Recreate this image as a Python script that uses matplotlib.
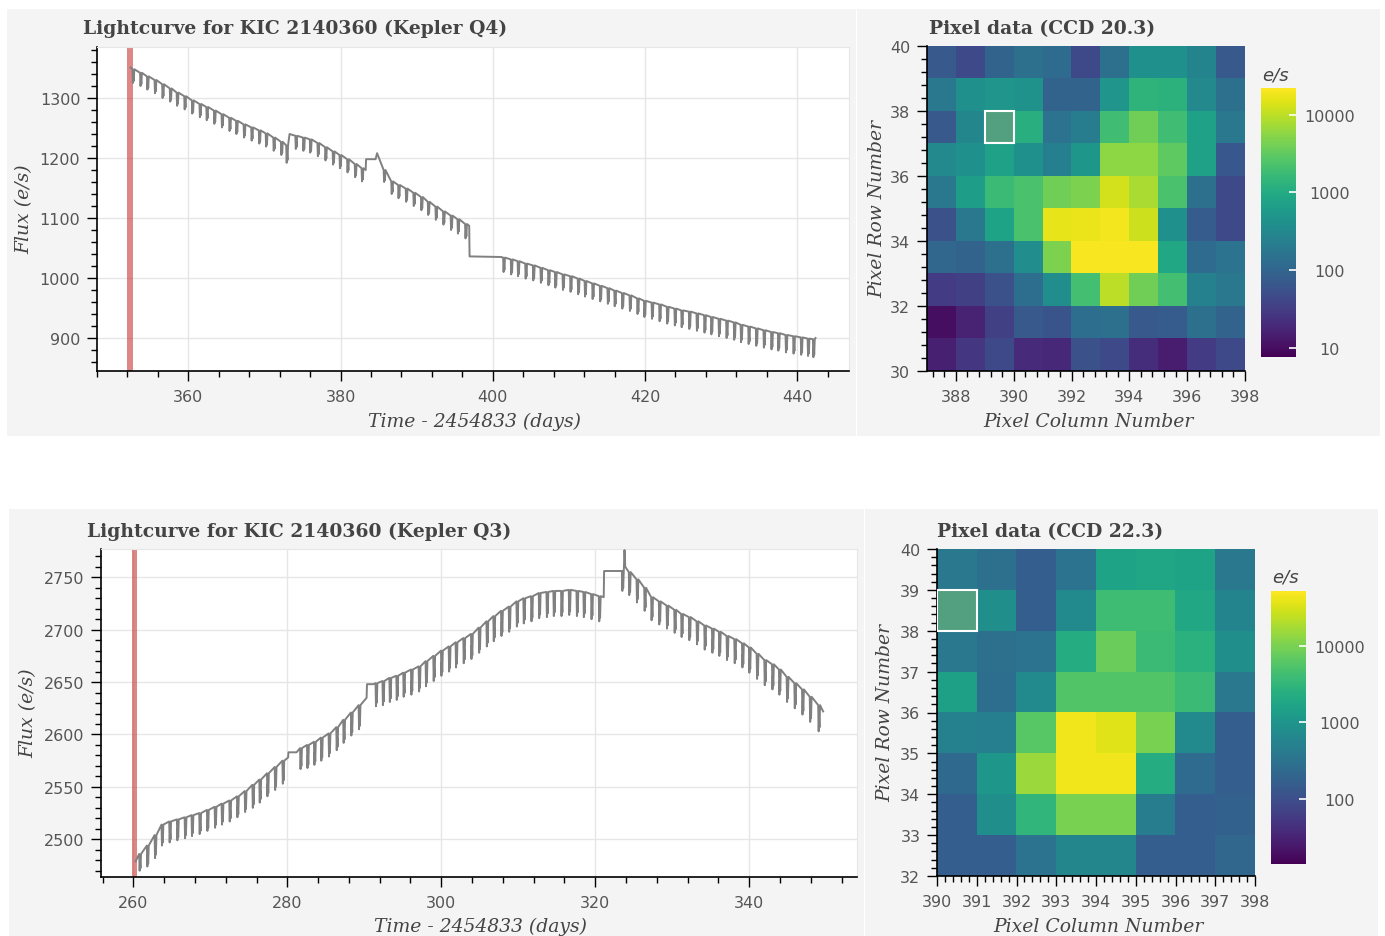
import numpy as np
import matplotlib
matplotlib.use('Agg')
import matplotlib.pyplot as plt
from matplotlib.colors import LogNorm
from matplotlib.patches import Rectangle
from matplotlib.ticker import MultipleLocator, NullLocator, FuncFormatter

W, H = 1385, 937

# ---- Kepler Q4 lightcurve: dip epochs, level before dip, dip bottom ----
q4_time = [352.4, 352.8, 353.8, 354.7, 355.7, 356.7, 357.7, 358.6, 359.6, 360.6,
           361.6, 362.5, 363.5, 364.5, 365.5, 366.4, 367.4, 368.4, 369.4, 370.3,
           371.3, 372.3, 373.0, 373.3, 374.2, 375.2, 376.1, 377.1, 378.1, 379.1,
           380.0, 381.0, 382.0, 382.9, 383.3, 383.35, 384.6, 384.8, 385.8, 386.8,
           387.7, 388.7, 389.7, 390.7, 391.6, 392.6, 393.6, 394.6, 395.5, 396.5,
           396.9, 396.95, 401.1, 401.5, 402.5, 403.4, 404.4, 405.4, 406.4, 407.4,
           408.3, 409.3, 410.3, 411.3, 412.2, 413.2, 414.2, 415.2, 416.1, 417.1,
           418.1, 419.1, 420.0, 421.0, 422.0, 423.0, 424.0, 424.9, 425.9, 426.9,
           427.9, 428.8, 429.8, 430.8, 431.8, 432.7, 433.7, 434.7, 435.7, 436.7,
           437.6, 438.6, 439.6, 440.6, 441.5, 442.2, 442.4]
q4_top = [1351, 1348, 1342, 1336, 1330, 1323, 1316, 1309, 1303, 1296,
          1290, 1285, 1279, 1273, 1267, 1262, 1256, 1251, 1246, 1241,
          1234, 1227, 1221, 1240, 1237, 1234, 1231, 1225, 1218, 1211,
          1205, 1198, 1190, 1183, 1180, 1198, 1198, 1208, 1180, 1161,
          1155, 1149, 1142, 1135, 1127, 1119, 1111, 1104, 1098, 1090,
          1087, 1036, 1035, 1034, 1031, 1028, 1024, 1021, 1017, 1013,
          1010, 1006, 1003, 999, 995, 991, 987, 983, 979, 975,
          971, 966, 962, 959, 956, 952, 949, 946, 944, 941,
          938, 935, 932, 929, 926, 922, 919, 916, 913, 910,
          908, 905, 903, 901, 899, 898, 900]
q4_low = [1351, 1325, 1320, 1314, 1308, 1300, 1294, 1287, 1281, 1274,
          1268, 1263, 1257, 1251, 1245, 1240, 1234, 1229, 1224, 1219,
          1212, 1205, 1192, 1240, 1215, 1212, 1209, 1203, 1196, 1189,
          1183, 1176, 1168, 1161, 1180, 1198, 1198, 1208, 1160, 1140,
          1133, 1127, 1120, 1113, 1105, 1097, 1089, 1080, 1074, 1066,
          1087, 1036, 1035, 1010, 1006, 1003, 999, 996, 992, 988,
          984, 980, 977, 973, 969, 965, 961, 957, 953, 949,
          945, 940, 935, 932, 928, 924, 921, 918, 915, 912,
          909, 906, 903, 900, 897, 893, 890, 887, 884, 881,
          879, 876, 874, 872, 870, 868, 900]
q4_marker = 352.35

# ---- Kepler Q3 lightcurve ----
q3_time = [260.3, 260.9, 261.9, 262.9, 263.8, 264.8, 265.8, 266.8, 267.7, 268.7,
           269.7, 270.7, 271.6, 272.6, 273.6, 274.6, 275.6, 276.5, 277.5, 278.5,
           279.5, 280.1, 280.15, 281.2, 281.8, 282.7, 283.6, 284.5, 285.5, 286.5,
           287.4, 288.4, 289.4, 290.3, 290.35, 291.2, 291.6, 292.5, 293.4, 294.3,
           295.2, 296.2, 297.2, 298.1, 299.1, 300.1, 301.1, 302.0, 303.0, 304.0,
           305.0, 306.0, 306.9, 307.9, 308.9, 309.9, 310.8, 311.8, 312.8, 313.8,
           314.7, 315.7, 316.7, 317.7, 318.6, 319.6, 320.6, 321.1, 321.15, 323.5,
           323.6, 323.8, 323.9, 324.5, 325.5, 326.5, 327.4, 328.4, 329.4, 330.4,
           331.3, 332.3, 333.3, 334.3, 335.3, 336.2, 337.2, 338.2, 339.2, 340.1,
           341.1, 342.1, 343.1, 344.0, 345.0, 346.0, 347.0, 348.0, 349.1, 349.6]
q3_top = [2479, 2486, 2494, 2504, 2514, 2517, 2519, 2521, 2523, 2525,
          2528, 2531, 2534, 2537, 2541, 2546, 2552, 2557, 2563, 2569,
          2575, 2578, 2583, 2583, 2587, 2590, 2593, 2597, 2601, 2607,
          2614, 2621, 2628, 2635, 2648, 2648, 2649, 2651, 2654, 2656,
          2659, 2662, 2665, 2670, 2675, 2680, 2684, 2688, 2692, 2696,
          2702, 2708, 2713, 2718, 2722, 2727, 2730, 2732, 2735, 2736,
          2737, 2737, 2738, 2737, 2736, 2734, 2732, 2731, 2756, 2756,
          2756, 2776, 2760, 2755, 2748, 2740, 2731, 2727, 2723, 2719,
          2715, 2712, 2708, 2704, 2701, 2698, 2694, 2691, 2687, 2683,
          2677, 2671, 2667, 2662, 2655, 2649, 2643, 2636, 2628, 2622]
q3_low = [2479, 2470, 2474, 2482, 2494, 2497, 2499, 2501, 2503, 2505,
          2508, 2511, 2514, 2517, 2521, 2526, 2530, 2535, 2541, 2547,
          2553, 2578, 2583, 2583, 2567, 2568, 2571, 2575, 2579, 2585,
          2592, 2599, 2605, 2635, 2648, 2648, 2627, 2628, 2631, 2633,
          2636, 2638, 2641, 2646, 2651, 2656, 2660, 2664, 2668, 2672,
          2678, 2684, 2689, 2694, 2698, 2703, 2706, 2708, 2711, 2712,
          2713, 2713, 2714, 2713, 2712, 2710, 2708, 2731, 2756, 2756,
          2737, 2776, 2760, 2733, 2726, 2718, 2709, 2705, 2701, 2697,
          2693, 2690, 2686, 2681, 2678, 2675, 2671, 2668, 2664, 2659,
          2653, 2647, 2643, 2638, 2631, 2625, 2619, 2612, 2603, 2622]
q3_marker = 260.15

# ---- pixel data (e/s), rows listed from top row to bottom row ----
pix_q4_cols = [387, 398]
pix_q4_rows = [30, 40]
pix_q4 = [
    [71, 44, 98, 147, 125, 44, 147, 414, 414, 278, 71],
    [186, 414, 486, 449, 98, 98, 486, 1370, 1265, 326, 147],
    [71, 301, 617, 1170, 159, 218, 1890, 3870, 1890, 724, 186],
    [326, 414, 724, 414, 237, 526, 5770, 5770, 3050, 724, 66],
    [186, 668, 1740, 2210, 3870, 4540, 12800, 7940, 2210, 147, 44],
    [56, 186, 784, 2210, 16260, 17600, 19070, 11830, 414, 77, 44],
    [107, 98, 147, 382, 4540, 20650, 20650, 20650, 920, 125, 159],
    [32, 35, 56, 135, 382, 2040, 10080, 3870, 2040, 256, 186],
    [10.5, 17, 35, 71, 61, 135, 147, 71, 77, 147, 98],
    [15.7, 27.5, 44, 20, 18.4, 56, 44, 21.6, 14.5, 32, 44],
]
pix_q4_range = (7.7, 22000)
pix_q4_target = (389, 37)

pix_q3_cols = [390, 398]
pix_q3_rows = [32, 40]
pix_q3 = [
    [375, 293, 165, 318, 1648, 1788, 1648, 375],
    [1288, 853, 165, 724, 4067, 4067, 1941, 566],
    [375, 293, 318, 2288, 7855, 3747, 2696, 853],
    [1518, 270, 724, 5650, 5650, 5650, 3747, 375],
    [521, 480, 6135, 44140, 34430, 10050, 724, 165],
    [229, 1092, 15150, 44140, 44140, 2288, 249, 165],
    [165, 853, 3178, 10050, 10050, 442, 165, 179],
    [165, 165, 318, 614, 614, 165, 165, 211],
]
pix_q3_range = (14, 52000)
pix_q3_target = (390, 38)

cbar_ticks = [10, 100, 1000, 10000]

TXT = '#444444'
TICK_TXT = '#555555'


def px_axes(fig, left, top, right, bottom):
    ax = fig.add_axes([left / W, 1 - bottom / H, (right - left) / W, (bottom - top) / H])
    ax.set_zorder(2)
    return ax


def fig_text(fig, x, y, s, **kw):
    fig.text(x / W, 1 - y / H, s, color=TXT, **kw)


def style_ticks(ax):
    ax.tick_params(which='major', direction='out', length=7, width=1, color='black',
                   labelsize=11.5, labelcolor=TICK_TXT, pad=5)
    ax.tick_params(axis='x', which='major', pad=6)
    ax.tick_params(which='minor', direction='out', length=4, width=1, color='black')


def draw_lightcurve(ax, times, tops, lows, marker, xlim, ylim, ymajor):
    # each dip is drawn as a narrow double-pronged notch below the running level
    xs, ys = [], []
    for t, hi, lo in zip(times, tops, lows):
        if lo < hi:
            d = hi - lo
            xs += [t - 0.14, t - 0.08, t - 0.03, t + 0.03, t + 0.1]
            ys += [hi, lo, hi - 0.45 * d, lo + 0.15 * d, hi]
        else:
            xs.append(t)
            ys.append(hi)
    ax.plot(xs, ys, color='#808080', lw=1.4, zorder=3)
    ax.axvspan(marker - 0.38, marker + 0.38, color='#c83737', alpha=0.6, lw=0, zorder=2)
    ax.set_xlim(*xlim)
    ax.set_ylim(*ylim)
    ax.xaxis.set_major_locator(MultipleLocator(20))
    ax.xaxis.set_minor_locator(MultipleLocator(4))
    ax.yaxis.set_major_locator(MultipleLocator(ymajor))
    ax.yaxis.set_minor_locator(MultipleLocator(ymajor / 5))
    ax.grid(True, which='major', color='#e6e6e6', lw=1, zorder=0)
    ax.set_axisbelow(True)
    for side in ['top', 'right']:
        ax.spines[side].set_color('#e6e6e6')
    for side in ['left', 'bottom']:
        ax.spines[side].set_linewidth(1.2)
    style_ticks(ax)


def draw_pixels(fig, ax, cax, pix, cols, rows, vrange, target, major, cbar_label_xy):
    im = ax.imshow(np.array(pix, dtype=float), cmap='viridis',
                   norm=LogNorm(vmin=vrange[0], vmax=vrange[1]),
                   extent=[cols[0], cols[1], rows[0], rows[1]], origin='upper',
                   aspect='auto', interpolation='nearest')
    ax.add_patch(Rectangle(target, 1, 1, facecolor='#52a07f', edgecolor='white',
                           lw=1.5, zorder=3))
    ax.set_xlim(*cols)
    ax.set_ylim(*rows)
    ax.xaxis.set_major_locator(MultipleLocator(major))
    ax.xaxis.set_minor_locator(MultipleLocator(major / 5))
    ax.yaxis.set_major_locator(MultipleLocator(major))
    ax.yaxis.set_minor_locator(MultipleLocator(major / 5))
    for side in ['top', 'right']:
        ax.spines[side].set_visible(False)
    for side in ['left', 'bottom']:
        ax.spines[side].set_linewidth(1.2)
    style_ticks(ax)

    ticks = [t for t in cbar_ticks if vrange[0] <= t <= vrange[1]]
    cb = fig.colorbar(im, cax=cax, ticks=ticks)
    cb.outline.set_visible(False)
    cax.yaxis.set_minor_locator(NullLocator())
    cax.yaxis.set_major_formatter(FuncFormatter(lambda v, p: f'{v:.0f}'))
    cax.tick_params(which='major', direction='in', length=5, width=1.2, color='white',
                    labelsize=11.5, labelcolor=TICK_TXT, pad=24)
    for lab in cax.get_yticklabels():
        lab.set_ha('center')
    fig_text(fig, cbar_label_xy[0], cbar_label_xy[1], 'e/s', style='italic',
             fontsize=13, ha='center', va='center')


fig = plt.figure(figsize=(W / 100, H / 100), dpi=100)

# grey panel backgrounds
for x0, y0, x1, y1 in [(7, 10, 856, 437), (857, 10, 1380, 437),
                       (9, 510, 864, 937), (865, 510, 1378, 937)]:
    fig.patches.append(Rectangle((x0 / W, 1 - y1 / H), (x1 - x0) / W, (y1 - y0) / H,
                                 transform=fig.transFigure, facecolor='#f4f4f4',
                                 edgecolor='none', zorder=-1))

serif_bold = dict(family='DejaVu Serif', fontweight='bold', fontsize=13.5, va='center')
serif_it = dict(family='DejaVu Serif', style='italic', fontsize=13.5, va='center')

# top row: Q4
ax1 = px_axes(fig, 97, 48, 849, 372)
draw_lightcurve(ax1, q4_time, q4_top, q4_low, q4_marker, (348, 446.8), (845, 1385), 100)
fig_text(fig, 83, 29, 'Lightcurve for KIC 2140360 (Kepler Q4)', ha='left', **serif_bold)
fig_text(fig, 475, 422, 'Time - 2454833 (days)', ha='center', **serif_it)
fig_text(fig, 24, 209, 'Flux (e/s)', ha='center', rotation=90, **serif_it)

ax2 = px_axes(fig, 927, 47, 1245, 372)
cax2 = px_axes(fig, 1261, 89, 1296, 358)
draw_pixels(fig, ax2, cax2, pix_q4, pix_q4_cols, pix_q4_rows, pix_q4_range,
            pix_q4_target, 2, (1275, 75))
fig_text(fig, 929, 29, 'Pixel data (CCD 20.3)', ha='left', **serif_bold)
fig_text(fig, 1088, 422, 'Pixel Column Number', ha='center', **serif_it)
fig_text(fig, 877, 209, 'Pixel Row Number', ha='center', rotation=90, **serif_it)

# bottom row: Q3
ax3 = px_axes(fig, 101, 550, 857, 878)
draw_lightcurve(ax3, q3_time, q3_top, q3_low, q3_marker, (255.8, 354), (2464, 2777), 50)
fig_text(fig, 87, 532, 'Lightcurve for KIC 2140360 (Kepler Q3)', ha='left', **serif_bold)
fig_text(fig, 481, 927, 'Time - 2454833 (days)', ha='center', **serif_it)
fig_text(fig, 28, 713, 'Flux (e/s)', ha='center', rotation=90, **serif_it)

ax4 = px_axes(fig, 937, 550, 1255, 877)
cax4 = px_axes(fig, 1271, 592, 1306, 865)
draw_pixels(fig, ax4, cax4, pix_q3, pix_q3_cols, pix_q3_rows, pix_q3_range,
            pix_q3_target, 1, (1285, 578))
fig_text(fig, 937, 532, 'Pixel data (CCD 22.3)', ha='left', **serif_bold)
fig_text(fig, 1098, 927, 'Pixel Column Number', ha='center', **serif_it)
fig_text(fig, 885, 713, 'Pixel Row Number', ha='center', rotation=90, **serif_it)

fig.savefig('out.png', dpi=100, facecolor='white')
